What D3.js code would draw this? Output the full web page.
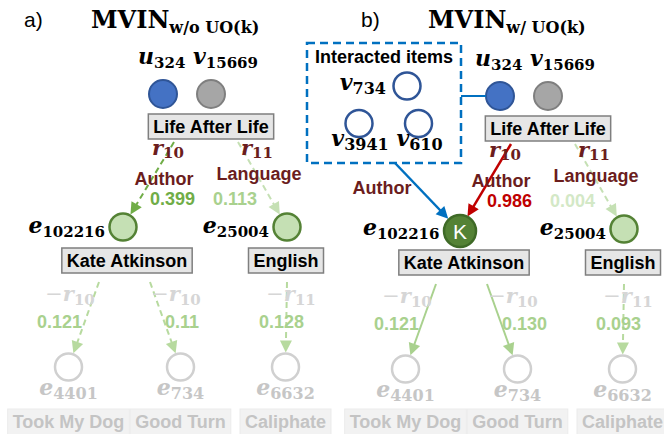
<!DOCTYPE html>
<html><head><meta charset="utf-8">
<script src="https://cdn.jsdelivr.net/npm/d3@7"></script>
<style>body{margin:0;background:#fff}svg{display:block}</style>
</head><body><svg id="c" width="664" height="434"></svg>
<script>
// ---------------- data ----------------
const panels = ["a)", "b)"];
const modelName = "MVIN";
const modelSub = ["w/o UO(k)", "w/ UO(k)"];
const userId = "324";
const itemId = "15669";
const itemTitle = "Life After Life";
const hop1Ids = ["102216", "25004"];
const hop1Titles = ["Kate Atkinson", "English"];
const hop1Rel = ["10", "11"];
const hop1RelName = ["Author", "Language"];
const hop1WeightA = [0.399, 0.113];
const hop1WeightB = [0.986, 0.004];
const hop2Ids = ["4401", "734", "6632"];
const hop2Titles = ["Took My Dog", "Good Turn", "Caliphate"];
const hop2Parent = ["102216", "102216", "25004"];
const hop2Rel = ["10", "10", "11"];
const hop2WeightA = [0.121, 0.11, 0.128];
const hop2WeightB = [0.121, 0.130, 0.093];
const interactedIds = ["734", "3941", "610"];
const interactedTitle = "Interacted items";
const userOrientedRelName = "Author";
const userOrientedMark = "K";

// ---------------- layout ----------------
const svg = d3.select("#c");
const mathFont = "'DejaVu Serif', serif";
const sansFont = "'Liberation Sans', Arial, sans-serif";
const panelX = d3.scaleOrdinal().domain(panels).range([0, 337]);
const panelDY = d3.scaleOrdinal().domain(panels).range([0, 2]);
const pairX = d3.scaleOrdinal().domain(["user", "item"]).range([163, 211]);
const hop1X = d3.scaleOrdinal().domain(hop1Ids).range([123, 287]);
const hop1BoxX = d3.scaleOrdinal().domain(hop1Ids).range([127, 286]);
const hop1StartDX = d3.scaleOrdinal().domain(hop1Ids).range([-37, 27]);
const hop1RelX = d3.scaleOrdinal().domain(hop1Ids).range([168, 257]);
const hop1NameX = d3.scaleOrdinal().domain(hop1Ids).range([164, 259]);
const hop1NameY = d3.scaleOrdinal().domain(hop1Ids).range([185, 180]);
const hop1WX = d3.scaleOrdinal().domain(hop1Ids).range([150, 213]);
const hop2X = d3.scaleOrdinal().domain(hop2Ids).range([68.5, 180.5, 285.5]);
const hop2StartDX = d3.scaleOrdinal().domain(hop2Ids).range([-24, 27, 0]);
const hop2RelX = d3.scaleOrdinal().domain(hop2Ids).range([70, 176, 291]);
const hop2WX = d3.scaleOrdinal().domain(hop2Ids).range([37, 165, 259]);
const rowY = d3.scaleOrdinal()
  .domain(["panel", "title", "vars", "pair", "itemBox", "relVar", "weight1", "hop1", "hop1Box", "relVar2", "weight2", "hop2", "hop2Var", "hop2Box"])
  .range([27, 28, 64, 94, 114, 155, 205, 227, 248, 301, 328, 367, 395, 409]);
const boxH = 25;

const fmtA = v => String(v);
const fmtB = d3.format(".3f");

const col = {
  user: "#4472c4", userStroke: "#2f5597",
  item: "#a6a6a6", itemStroke: "#7f7f7f",
  ent: "#c5e0b4", entStroke: "#548235",
  entDark: "#548235", entDarkStroke: "#3f6a27",
  rel: "#6b1d1d", faintRel: "#d6d6d6", faintNode: "#d0d0d0", faintText: "#c6c6c6",
  boxFill: "#e6e6e6", boxStroke: "#7f7f7f", faintBox: "#f2f2f2",
  blue: "#0070c0", red: "#c00000",
  g1: "#70ad47", g2: "#a9d18e", g3: "#c5e0b4", g4: "#d3e8c6"
};

function math(g, x, y, parts, o) {
  const t = g.append("text").attr("x", x).attr("y", y)
    .attr("text-anchor", o.anchor || "start")
    .attr("fill", o.color || "#000")
    .style("font-family", mathFont).style("white-space", "pre");
  let shift = 0;
  parts.forEach(p => {
    const target = p.k === "sub" ? (o.subDy || 4) : 0;
    const s = t.append("tspan").text(p.t).attr("dy", target - shift);
    shift = target;
    s.style("font-size", (p.k === "sub" ? (o.ss || 15) : (o.bs || 21)) + "px")
      .style("font-weight", p.k === "minus" ? "normal" : "bold")
      .style("font-style", p.k === "var" ? "italic" : "normal");
  });
  return t;
}

function arrow(g, x1, y1, x2, y2, o) {
  const dx = x2 - x1, dy = y2 - y1, L = Math.hypot(dx, dy), ux = dx / L, uy = dy / L;
  const head = o.head || 12, hw = o.hw || 6;
  const bx = x2 - ux * head, by = y2 - uy * head;
  g.append("line").attr("x1", x1).attr("y1", y1).attr("x2", bx + ux * 1).attr("y2", by + uy * 1)
    .attr("stroke", o.color).attr("stroke-width", o.width || 2)
    .attr("stroke-dasharray", o.dash ? "6,4" : null);
  g.append("path")
    .attr("d", `M${x2},${y2}L${bx - uy * hw},${by + ux * hw}L${bx + uy * hw},${by - ux * hw}Z`)
    .attr("fill", o.color);
}

function edgeEnd(x1, y1, cx, cy, r) {
  const dx = cx - x1, dy = cy - y1, L = Math.hypot(dx, dy);
  return [cx - dx / L * (r + 1), cy - dy / L * (r + 1)];
}

function textBox(g, cx, y, label, o) {
  const t = g.append("text").attr("x", cx).attr("y", y + 19).attr("text-anchor", "middle")
    .attr("fill", o.color).style("font-family", sansFont).style("font-weight", "bold")
    .style("font-size", "18px").text(label);
  const w = t.node().getComputedTextLength() + 10;
  g.insert("rect", "text").attr("x", cx - w / 2).attr("y", y).attr("width", w).attr("height", o.h || boxH)
    .attr("fill", o.fill).attr("stroke", o.stroke).attr("stroke-width", o.sw || 1.5);
}

function sans(g, x, y, s, o) {
  return g.append("text").attr("x", x).attr("y", y).attr("text-anchor", o.anchor || "start")
    .attr("fill", o.color).style("font-family", sansFont).style("font-weight", o.weight || "bold")
    .style("font-size", (o.size || 18) + "px").text(s);
}

panels.forEach((p, pi) => {
  const isB = pi === 1;
  const g = svg.append("g").attr("transform", `translate(${panelX(p)},0)`);
  // panel label + title
  sans(g, 24, rowY("panel"), p, { color: "#000", weight: "normal", size: 21 });
  math(g, 91, rowY("title"), [{ t: modelName, k: "b" }, { t: modelSub[pi], k: "sub" }], { bs: 24, ss: 16, subDy: 5 });

  const gg = g.append("g").attr("transform", `translate(0,${panelDY(p)})`);
  const hop1W = isB ? hop1WeightB : hop1WeightA;
  const hop2W = isB ? hop2WeightB : hop2WeightA;
  const fmt = isB ? fmtB : fmtA;

  // user / item labels
  math(gg, 198, rowY("vars"), [{ t: "u", k: "var" }, { t: userId, k: "sub" }, { t: " ", k: "b" }, { t: "v", k: "var" }, { t: itemId, k: "sub" }], { anchor: "middle", bs: 22 });

  // edges item -> hop1
  const itemBoxBottom = rowY("itemBox") + boxH;
  hop1Ids.forEach((id, i) => {
    const x1 = pairX("item") + hop1StartDX(id), y1 = itemBoxBottom + 3;
    const [x2, y2] = edgeEnd(x1, y1, hop1X(id), rowY("hop1"), 13.5);
    let style;
    if (isB) style = i === 0 ? { color: col.red, width: 2.5 } : { color: col.g3, dash: true };
    else style = i === 0 ? { color: col.g1, dash: true } : { color: col.g3, dash: true };
    arrow(gg, x1, y1, x2, y2, style);
  });
  // edges hop1 -> hop2
  const hop1BoxBottom = rowY("hop1Box") + boxH;
  hop2Ids.forEach((id, i) => {
    const par = hop2Parent[i];
    const x1 = hop1X(par) + hop2StartDX(id), y1 = hop1BoxBottom + 9;
    const [x2, y2] = edgeEnd(x1, y1, hop2X(id), rowY("hop2"), 13.5);
    const solid = isB && par === hop1Ids[0];
    arrow(gg, x1, y1, x2, y2, { color: solid ? col.g2 : "#b7da9f", dash: !solid, width: 2 });
  });

  // user & item nodes
  gg.append("circle").attr("cx", pairX("user")).attr("cy", rowY("pair")).attr("r", 14)
    .attr("fill", col.user).attr("stroke", col.userStroke).attr("stroke-width", 2);
  gg.append("circle").attr("cx", pairX("item")).attr("cy", rowY("pair")).attr("r", 14)
    .attr("fill", col.item).attr("stroke", col.itemStroke).attr("stroke-width", 2);
  textBox(gg, pairX("item"), rowY("itemBox"), itemTitle, { color: "#000", fill: col.boxFill, stroke: col.boxStroke });

  // hop1 relation labels
  hop1Ids.forEach((id, i) => {
    math(gg, hop1RelX(id), rowY("relVar"), [{ t: "r", k: "var" }, { t: hop1Rel[i], k: "sub" }], { anchor: "middle", color: col.rel, ss: 15, subDy: 3 });
    sans(gg, hop1NameX(id), hop1NameY(id), hop1RelName[i], { anchor: "middle", color: col.rel });
    let wc;
    if (isB) wc = i === 0 ? col.red : col.g4;
    else wc = i === 0 ? col.g1 : col.g2;
    sans(gg, hop1WX(id), rowY("weight1"), fmt(hop1W[i]), { color: wc });
  });

  // hop1 nodes
  hop1Ids.forEach((id, i) => {
    const dark = isB && i === 0;
    const r = dark ? 16 : 13.5;
    const cy = rowY("hop1") + (dark ? 2 : 0);
    gg.append("circle").attr("cx", hop1X(id)).attr("cy", cy).attr("r", r)
      .attr("fill", dark ? col.entDark : col.ent).attr("stroke", dark ? col.entDarkStroke : col.entStroke).attr("stroke-width", 2.5);
    if (dark) {
      gg.append("text").attr("x", hop1X(id)).attr("y", cy + 7.5).attr("text-anchor", "middle")
        .attr("fill", "#fff").style("font-family", sansFont).style("font-size", "21px").text(userOrientedMark);
    }
    math(gg, hop1X(id) - r - 4.5, rowY("hop1") + 6, [{ t: "e", k: "var" }, { t: hop1Ids[i], k: "sub" }], { anchor: "end", ss: 15, bs: 22 });
    textBox(gg, hop1BoxX(id), rowY("hop1Box"), hop1Titles[i], { color: "#000", fill: col.boxFill, stroke: col.boxStroke });
  });

  // hop2 relation labels + weights
  hop2Ids.forEach((id, i) => {
    math(gg, hop2RelX(id), rowY("relVar2"), [{ t: "−", k: "minus" }, { t: "r", k: "var" }, { t: hop2Rel[i], k: "sub" }], { anchor: "middle", color: col.faintRel, ss: 15 });
    sans(gg, hop2WX(id), rowY("weight2"), fmt(hop2W[i]), { color: col.g2 });
  });

  // hop2 nodes
  hop2Ids.forEach((id, i) => {
    gg.append("circle").attr("cx", hop2X(id)).attr("cy", rowY("hop2")).attr("r", 13.5)
      .attr("fill", "#fff").attr("stroke", col.faintNode).attr("stroke-width", 2.5);
    math(gg, hop2X(id), rowY("hop2Var"), [{ t: "e", k: "var" }, { t: id, k: "sub" }], { anchor: "middle", color: col.faintText, ss: 16, bs: 22 });
  });
  hop2Ids.forEach((id, i) => {
    textBox(g, hop2X(id), rowY("hop2Box"), hop2Titles[i], { color: "#c4c4c4", fill: col.faintBox, stroke: "#ebebeb", sw: 1, h: 30 });
  });

  if (isB) {
    // interacted items group (absolute to panel b)
    const bx = 307 - panelX(p), by = 43, bw = 154, bh = 120;
    const ig = g.append("g");
    ig.append("rect").attr("x", bx).attr("y", by).attr("width", bw).attr("height", bh)
      .attr("fill", "none").attr("stroke", col.blue).attr("stroke-width", 2.5).attr("stroke-dasharray", "8,5");
    sans(ig, bx + bw / 2, 63, interactedTitle, { anchor: "middle", color: "#000" });
    const ix = d3.scaleOrdinal().domain(interactedIds).range([407, 359, 418.5].map(v => v - panelX(p)));
    const iy = d3.scaleOrdinal().domain(interactedIds).range([86, 123.5, 123.5]);
    interactedIds.forEach((id, i) => {
      ig.append("circle").attr("cx", ix(id)).attr("cy", iy(id)).attr("r", 13.5)
        .attr("fill", "#fff").attr("stroke", col.userStroke).attr("stroke-width", 2.5);
      if (i === 0) math(ig, ix(id) - 21, iy(id) + 4, [{ t: "v", k: "var" }, { t: id, k: "sub" }], { anchor: "end", ss: 16, bs: 22 });
      else math(ig, ix(id) + 1, 146, [{ t: "v", k: "var" }, { t: id, k: "sub" }], { anchor: "middle", ss: 16, bs: 22 });
    });
    // connector to user
    ig.append("line").attr("x1", bx + bw).attr("y1", rowY("pair") + panelDY(p)).attr("x2", pairX("user") - 14).attr("y2", rowY("pair") + panelDY(p))
      .attr("stroke", col.blue).attr("stroke-width", 2);
    // user-oriented arrow
    const x1 = 395 - panelX(p), y1 = by + bh;
    const [x2, y2] = edgeEnd(x1, y1, hop1X(hop1Ids[0]), rowY("hop1") + 2 + panelDY(p), 16);
    arrow(ig, x1, y1, x2, y2, { color: col.blue, width: 2.5 });
    sans(ig, 382 - panelX(p), 194, userOrientedRelName, { anchor: "middle", color: col.rel });
  }
});
</script></body></html>
